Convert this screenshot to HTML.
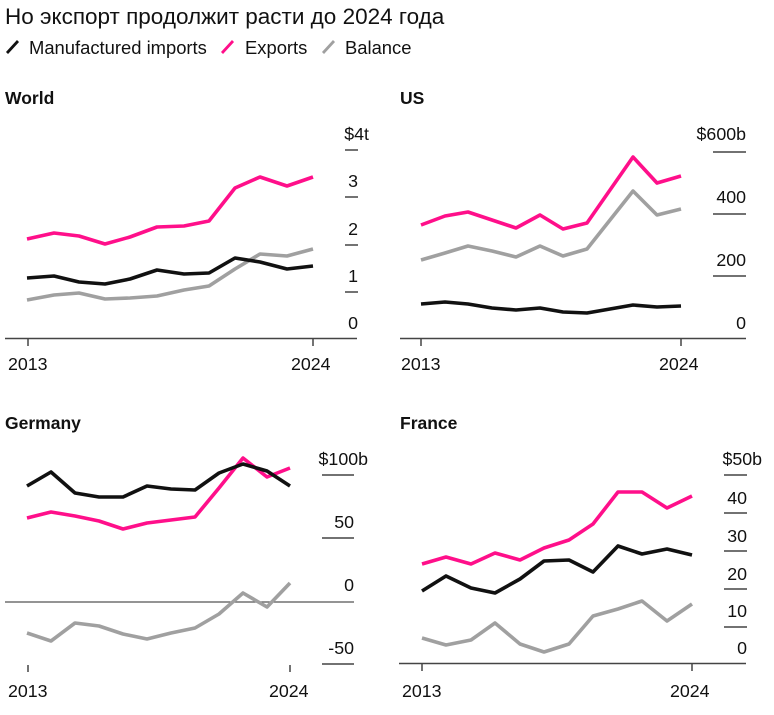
<!DOCTYPE html>
<html><head><meta charset="utf-8"><style>
body{margin:0;background:#fff}
svg{display:block;font-family:"Liberation Sans","Noto Sans CJK SC",sans-serif}
.t{font-size:17.8px;fill:#111}
.b{font-size:17.5px;font-weight:bold;fill:#111}
polyline{fill:none;stroke-width:3.6;stroke-linejoin:round}
.k{stroke:#111}.p{stroke:#ff0f8a}.g{stroke:#a0a0a0}
.tk{stroke:#444;stroke-width:1.5}
</style></head><body>
<svg width="774" height="715" viewBox="0 0 774 715">
<text x="5" y="24" style="font-size:22.5px;fill:#111">Но экспорт продолжит расти до 2024 года</text>
<line x1="7" y1="53" x2="18" y2="41" stroke="#111" stroke-width="2.8"/>
<text x="29" y="54" style="font-size:18.4px;fill:#111">Manufactured imports</text>
<line x1="222" y1="53" x2="233" y2="41" stroke="#ff0f8a" stroke-width="2.8"/>
<text x="245" y="54" style="font-size:18.4px;fill:#111">Exports</text>
<line x1="323" y1="53" x2="334" y2="41" stroke="#a0a0a0" stroke-width="2.8"/>
<text x="345" y="54" style="font-size:18.4px;fill:#111">Balance</text>

<!-- World -->
<text x="5" y="104" class="b">World</text>
<g class="tk"><line x1="345" y1="150" x2="358" y2="150"/><line x1="345" y1="197" x2="358" y2="197"/><line x1="345" y1="245" x2="358" y2="245"/><line x1="345" y1="292" x2="358" y2="292"/>
<line x1="5" y1="338.5" x2="357" y2="338.5"/><line x1="28" y1="338" x2="28" y2="346"/><line x1="313" y1="338" x2="313" y2="346"/></g>
<g class="t" text-anchor="end"><text x="369" y="140">$4t</text><text x="358" y="187">3</text><text x="358" y="235">2</text><text x="358" y="282">1</text><text x="358" y="329">0</text></g>
<text x="8" y="370" class="t">2013</text><text x="291" y="370" class="t">2024</text>
<polyline class="g" points="27,300 54,295 79,293 105,299 130,298 157,296 184,290 209,286 235,269 260,254 287,256 313,249"/>
<polyline class="k" points="27,278 54,276 79,282 105,284 130,279 157,270 184,274 209,273 235,258 260,262 287,269 313,266"/>
<polyline class="p" points="27,239 54,233 79,236 105,244 130,237 157,227 184,226 209,221 235,188 260,177 287,186 313,177"/>

<!-- US -->
<text x="400" y="104" class="b">US</text>
<g class="tk"><line x1="713" y1="152" x2="746" y2="152"/><line x1="713" y1="214" x2="746" y2="214"/><line x1="713" y1="276" x2="746" y2="276"/>
<line x1="400" y1="338.5" x2="746" y2="338.5"/><line x1="421" y1="338" x2="421" y2="346"/><line x1="681" y1="338" x2="681" y2="346"/></g>
<g class="t" text-anchor="end"><text x="746" y="140">$600b</text><text x="746" y="203">400</text><text x="746" y="266">200</text><text x="746" y="329">0</text></g>
<text x="401" y="370" class="t">2013</text><text x="659" y="370" class="t">2024</text>
<polyline class="g" points="421,260 445,253 468,246 492,251 516,257 540,246 563,256 587,249 610,220 633,191 657,215 681,209"/>
<polyline class="k" points="421,304 445,302 468,304 492,308 516,310 540,308 563,312 587,313 610,309 633,305 657,307 681,306"/>
<polyline class="p" points="421,225 445,216 468,212 492,220 516,228 540,215 563,229 587,223 610,190 633,157 657,183 681,176"/>

<!-- Germany -->
<text x="5" y="429" class="b">Germany</text>
<g class="tk"><line x1="322" y1="475" x2="354" y2="475"/><line x1="322" y1="538" x2="354" y2="538"/><line x1="322" y1="664" x2="354" y2="664"/>
<line x1="28" y1="665" x2="28" y2="672"/><line x1="290" y1="665" x2="290" y2="672"/></g>
<line x1="5" y1="602" x2="354" y2="602" stroke="#555" stroke-width="1.2"/>
<g class="t" text-anchor="end"><text x="368" y="465">$100b</text><text x="354" y="528">50</text><text x="354" y="591">0</text><text x="354" y="654">-50</text></g>
<text x="8" y="697" class="t">2013</text><text x="269" y="697" class="t">2024</text>
<polyline class="g" points="27,633 51,641 75,623 99,626 123,634 147,639 171,633 195,628 219,614 243,593 267,607 290,583"/>
<polyline class="p" points="27,518 51,512 75,516 99,521 123,529 147,523 171,520 195,517 219,488 243,458 267,477 290,468"/>
<polyline class="k" points="27,486 51,472 75,493 99,497 123,497 147,486 171,489 195,490 219,473 243,464 267,471 290,486"/>

<!-- France -->
<text x="400" y="429" class="b">France</text>
<g class="tk"><line x1="724" y1="475" x2="747" y2="475"/><line x1="724" y1="513" x2="747" y2="513"/><line x1="724" y1="551" x2="747" y2="551"/><line x1="724" y1="589" x2="747" y2="589"/><line x1="724" y1="627" x2="747" y2="627"/>
<line x1="399" y1="663.5" x2="746" y2="663.5"/><line x1="422" y1="663" x2="422" y2="671"/><line x1="692" y1="663" x2="692" y2="671"/></g>
<g class="t" text-anchor="end"><text x="762" y="465">$50b</text><text x="747" y="504">40</text><text x="747" y="542">30</text><text x="747" y="580">20</text><text x="747" y="617">10</text><text x="747" y="654">0</text></g>
<text x="402" y="697" class="t">2013</text><text x="670" y="697" class="t">2024</text>
<polyline class="g" points="422,638 446,645 471,640 495,623 520,644 544,652 569,644 593,616 618,609 642,601 667,621 692,604"/>
<polyline class="k" points="422,591 446,576 471,588 495,593 520,579 544,561 569,560 593,572 618,546 642,554 667,549 692,555"/>
<polyline class="p" points="422,564 446,557 471,564 495,553 520,560 544,548 569,540 593,524 618,492 642,492 667,508 692,496"/>
</svg>
</body></html>
